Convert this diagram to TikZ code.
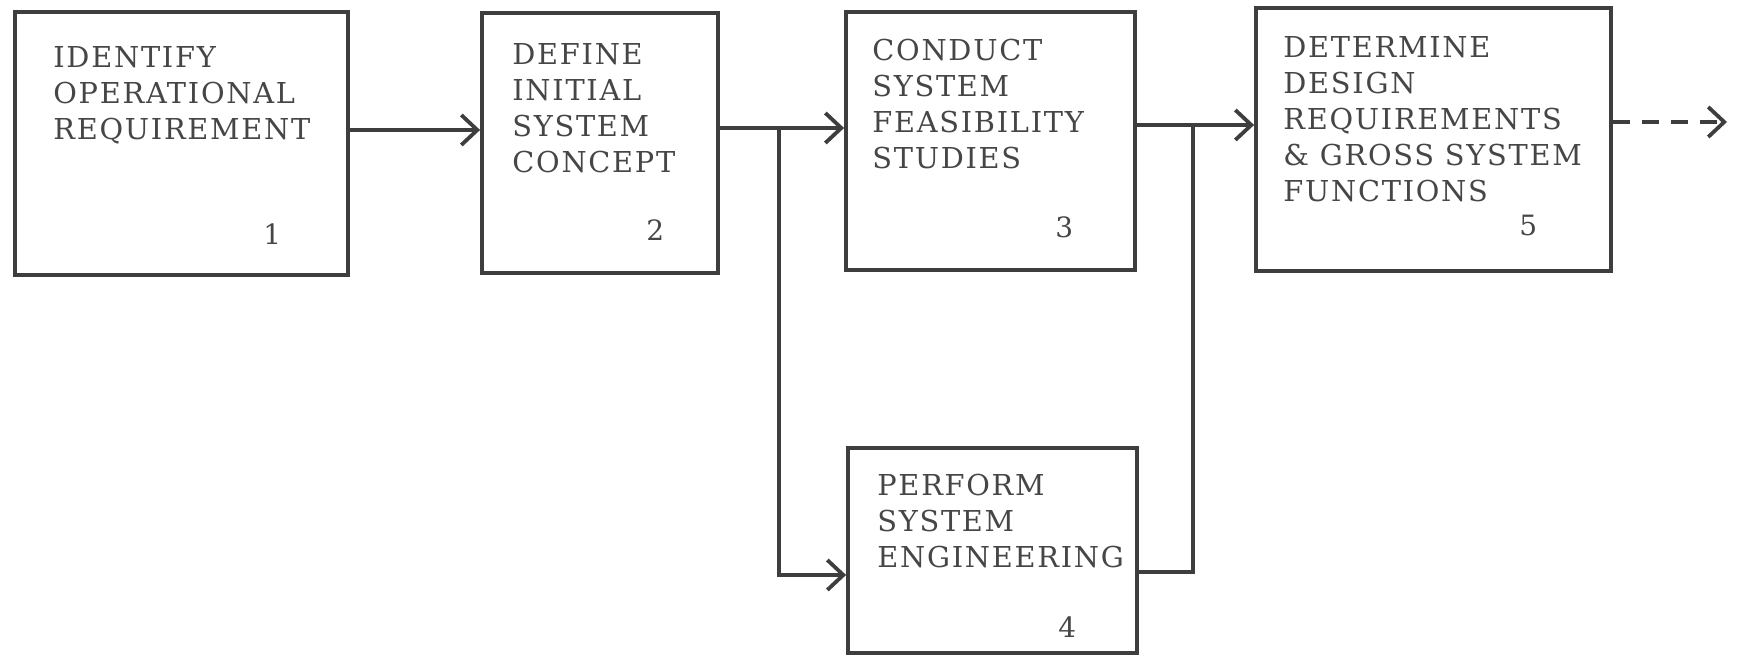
\documentclass[tikz,border=0pt]{standalone}
\usepackage{fontspec}
\setmainfont{DejaVu Serif}
\newfontfamily\labelfont{DejaVu Serif}[LetterSpace=6]
\usetikzlibrary{arrows.meta,fit}
\definecolor{ink}{RGB}{62,62,62}
\definecolor{typeink}{RGB}{70,70,70}
\begin{document}
\begin{tikzpicture}[x=0.5pt,y=-0.5pt,
  stepbox/.style={draw=ink,line width=1.9pt,inner sep=0pt,rectangle},
  caption/.style={anchor=north west,inner sep=0pt,align=left,text=typeink,
    font=\labelfont\fontsize{14.4}{18}\selectfont},
  num/.style={anchor=base west,inner sep=0pt,text=typeink,
    font=\fontsize{14}{18}\selectfont},
  flow/.style={draw=ink,line width=1.9pt,line join=miter,
    -{Straight Barb[length=8pt,width=15pt,line width=1.9pt]}},
  link/.style={draw=ink,line width=1.9pt,line join=miter}]
\useasboundingbox (0,0) rectangle (1737,657);

% process boxes
\node[stepbox,fit={(15,12) (348,275)}] (b1) {};
\node[stepbox,fit={(482,13) (718,273)}] (b2) {};
\node[stepbox,fit={(846,12) (1135,270)}] (b3) {};
\node[stepbox,fit={(848,448) (1137,653)}] (b4) {};
\node[stepbox,fit={(1256,8) (1611,271)}] (b5) {};

% box captions
\node[caption] (t1) at (53,46) {IDENTIFY\\OPERATIONAL\\REQUIREMENT};
\node[caption] (t2) at (512,43) {DEFINE\\INITIAL\\SYSTEM\\CONCEPT};
\node[caption] (t3) at (872,39) {CONDUCT\\SYSTEM\\FEASIBILITY\\STUDIES};
\node[caption] (t4) at (877,474) {PERFORM\\SYSTEM\\ENGINEERING};
\node[caption] (t5) at (1283,36) {DETERMINE\\DESIGN\\REQUIREMENTS\\\& GROSS SYSTEM\\FUNCTIONS};

% step numbers
\node[num] (n1) at (263,245) {1};
\node[num] (n2) at (646,241) {2};
\node[num] (n3) at (1055,238) {3};
\node[num] (n4) at (1058,638) {4};
\node[num] (n5) at (1519,236) {5};

% connector rows and junctions
\coordinate (r1) at (0,130);
\coordinate (r2) at (0,128);
\coordinate (r3) at (0,125);
\coordinate (r4) at (0,575);
\coordinate (r4b) at (0,572);
\coordinate (r5) at (0,122);
\coordinate (j1) at (779,128);
\coordinate (j2) at (1193,125);
\coordinate (out) at (1727,122);

% connectors
\draw[flow] (b1.east |- r1) -- (b2.west |- r1);
\draw[flow] (b2.east |- r2) -- (b3.west |- r2);
\draw[flow] (j1) |- (b4.west |- r4);
\draw[flow] (b3.east |- r3) -- (b5.west |- r3);
\draw[link] (b4.east |- r4b) -| (j2);
\draw[flow,dash pattern=on 8.5pt off 6pt] (b5.east |- r5) -- (out);
\end{tikzpicture}
\end{document}
